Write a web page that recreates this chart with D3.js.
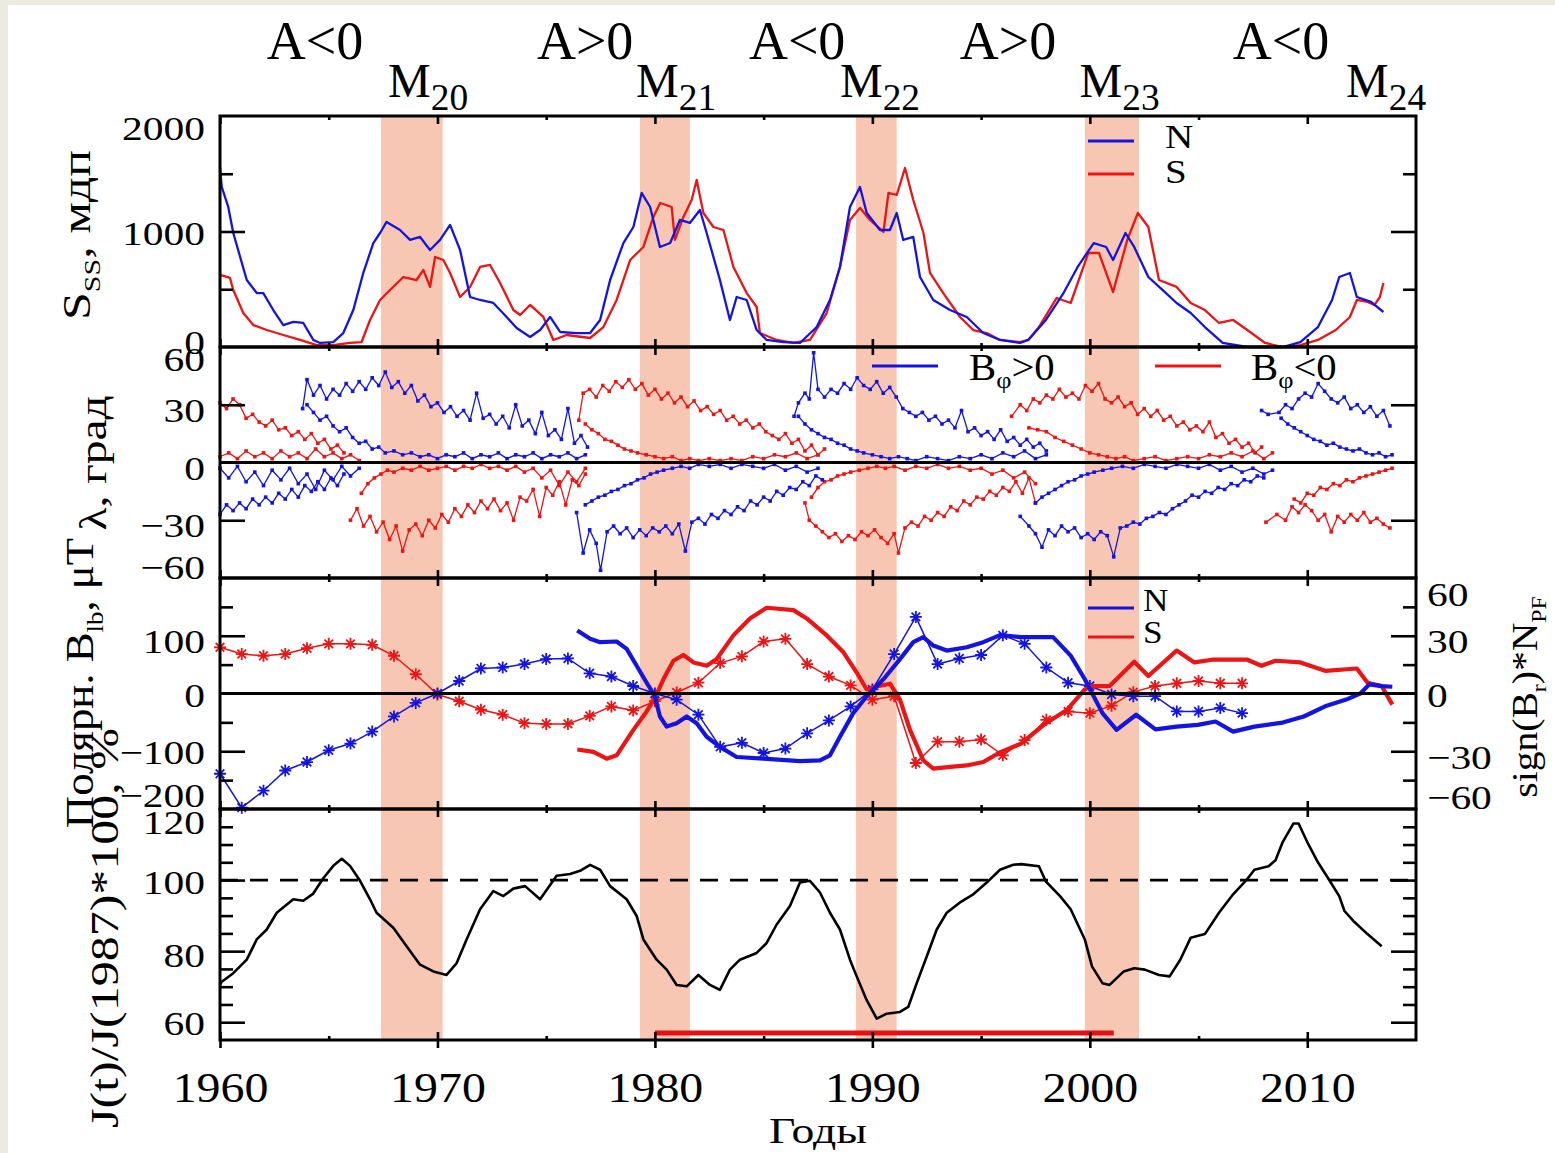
<!DOCTYPE html>
<html><head><meta charset="utf-8">
<script src="https://cdn.jsdelivr.net/npm/d3@7"></script>
<style>
html,body{margin:0;padding:0;background:#ecebe1;}
svg{display:block;}
</style></head><body>
<svg id="c" width="1555" height="1153"></svg>
<script>
// ================= DATA =================
const polarityLabels = ["A<0","A>0","A<0","A>0","A<0"];
const maxSubs = ["20","21","22","23","24"];
const bands = [[1967.4,1970.24],[1979.31,1981.61],[1989.25,1991.12],[1999.77,2002.26]];
const xTickLabels = [1960,1970,1980,1990,2000,2010];

// Panel 1: sunspot area S_ss (msh), N and S
const sN = [[1960.00,1559],[1960.08,1386],[1960.38,1212],[1960.61,987],[1961.23,580],[1961.69,467],[1961.99,467],[1962.45,320],[1962.91,190],[1963.37,217],[1963.83,208],[1964.29,61],[1964.60,35],[1965.21,43],[1965.67,121],[1966.13,320],[1966.59,641],[1967.05,900],[1967.36,987],[1967.66,1083],[1968.28,1013],[1968.74,927],[1969.20,953],[1969.66,840],[1970.12,927],[1970.58,1057],[1971.04,840],[1971.50,433],[1971.96,407],[1972.57,381],[1973.18,260],[1973.64,165],[1974.26,87],[1974.72,147],[1975.18,260],[1975.64,130],[1976.40,121],[1977.02,121],[1977.48,234],[1977.94,580],[1978.55,900],[1979.01,1039],[1979.39,1334],[1979.78,1212],[1980.23,866],[1980.70,900],[1981.15,1100],[1981.61,1074],[1982.07,1186],[1982.38,987],[1982.99,580],[1983.45,234],[1983.76,433],[1984.22,407],[1984.68,147],[1985.14,61],[1985.91,43],[1986.67,35],[1987.44,173],[1988.05,407],[1988.51,693],[1988.97,1212],[1989.43,1386],[1989.74,1160],[1990.35,1013],[1990.81,1013],[1991.12,1160],[1991.42,927],[1991.88,953],[1992.19,606],[1992.80,407],[1993.57,320],[1994.34,260],[1995.10,121],[1995.87,61],[1996.79,35],[1997.17,61],[1997.98,234],[1998.79,467],[1999.44,693],[2000.18,900],[2000.75,866],[2001.07,753],[2001.64,987],[2002.04,866],[2002.69,606],[2003.34,494],[2003.99,381],[2004.64,294],[2005.29,173],[2006.11,35],[2007.24,0],[2008.87,0],[2009.68,43],[2010.49,173],[2011.14,407],[2011.47,606],[2011.96,641],[2012.28,433],[2012.93,390],[2013.50,303]];
const sS = [[1960.00,624],[1960.46,598],[1960.61,494],[1961.07,294],[1961.53,190],[1962.15,147],[1962.91,104],[1963.68,61],[1964.45,17],[1965.21,17],[1965.98,35],[1966.51,43],[1966.90,234],[1967.36,407],[1967.82,494],[1968.43,606],[1969.04,580],[1969.35,667],[1969.66,520],[1969.89,779],[1970.27,753],[1970.58,641],[1971.04,433],[1971.50,520],[1971.96,693],[1972.42,710],[1972.88,554],[1973.49,320],[1973.80,277],[1974.26,364],[1974.87,260],[1975.33,61],[1975.94,104],[1977.02,78],[1977.63,173],[1978.24,407],[1978.86,753],[1979.47,866],[1979.93,1126],[1980.24,1247],[1980.77,1212],[1980.92,927],[1981.31,1126],[1981.69,1273],[1981.92,1446],[1982.23,1160],[1982.69,1039],[1983.15,1013],[1983.61,693],[1984.22,467],[1984.68,346],[1984.83,121],[1985.60,61],[1986.37,35],[1987.13,61],[1987.90,294],[1988.51,693],[1988.97,1100],[1989.43,1204],[1989.89,1100],[1990.51,996],[1990.74,1334],[1991.12,1316],[1991.50,1550],[1991.88,1273],[1992.35,987],[1992.65,641],[1993.26,467],[1994.03,260],[1994.64,147],[1995.26,121],[1995.87,61],[1996.79,43],[1997.17,61],[1997.66,173],[1998.47,424],[1999.12,381],[1999.93,814],[2000.42,814],[2001.07,476],[2001.72,927],[2002.21,1160],[2002.69,1039],[2003.18,580],[2003.99,520],[2004.64,381],[2005.29,320],[2005.94,208],[2006.59,234],[2007.24,147],[2008.06,35],[2008.87,0],[2009.68,17],[2010.49,61],[2011.31,147],[2011.96,260],[2012.28,407],[2012.77,390],[2013.09,364],[2013.34,433],[2013.50,554]];

// Panel 2: latitude (deg) of sunspot zone borders, blue: B_phi>0, red: B_phi<0
const latR19a = [[1960.0,31],[1960.3,28],[1960.6,33],[1960.9,30],[1961.2,23],[1961.5,25],[1961.8,21],[1962.1,19],[1962.4,22],[1962.7,17],[1963.0,18],[1963.3,14],[1963.6,16],[1963.9,12],[1964.2,15],[1964.5,10],[1964.8,12],[1965.1,7],[1965.4,9],[1965.7,5]];
const latR19b = [[1960.0,3],[1960.4,5],[1960.8,2],[1961.2,6],[1961.6,3],[1962.0,5],[1962.4,2],[1962.8,6],[1963.2,3],[1963.6,5],[1964.0,2],[1964.4,7],[1964.8,3],[1965.2,5],[1965.6,2],[1966.0,4],[1966.4,1]];
const latB19a = [[1960.0,-3],[1960.4,-8],[1960.8,-2],[1961.2,-10],[1961.6,-5],[1962.0,-12],[1962.4,-4],[1962.8,-9],[1963.2,-3],[1963.6,-11],[1964.0,-6],[1964.4,-14],[1964.8,-4],[1965.2,-9],[1965.6,-2],[1966.0,-7],[1966.4,-3]];
const latB19b = [[1960.0,-27],[1960.3,-22],[1960.6,-25],[1960.9,-21],[1961.2,-24],[1961.5,-19],[1961.8,-22],[1962.1,-18],[1962.4,-21],[1962.7,-16],[1963.0,-19],[1963.3,-14],[1963.6,-18],[1963.9,-12],[1964.2,-15],[1964.5,-10],[1964.8,-14],[1965.1,-8],[1965.4,-12],[1965.7,-6]];
const latB20a = [[1963.8,28],[1964.0,43],[1964.3,35],[1964.6,40],[1964.9,33],[1965.2,38],[1965.5,35],[1965.8,41],[1966.1,37],[1966.4,42],[1966.7,38],[1967.0,44],[1967.3,40],[1967.6,47],[1967.9,39],[1968.2,42],[1968.5,36],[1968.8,40],[1969.1,32],[1969.4,35],[1969.7,29],[1970.0,31],[1970.3,26],[1970.6,29],[1970.9,24],[1971.2,27],[1971.5,22],[1971.8,36],[1972.1,23],[1972.4,25],[1972.7,20],[1973.0,24],[1973.3,18],[1973.6,30],[1973.9,19],[1974.2,22],[1974.5,15],[1974.8,26],[1975.1,14],[1975.4,17],[1975.7,12],[1976.0,28],[1976.3,10],[1976.6,14],[1976.9,8]];
const latB20b = [[1964.0,30],[1964.3,26],[1964.6,22],[1964.9,24],[1965.2,19],[1965.5,16],[1965.8,18],[1966.1,13],[1966.4,10],[1966.7,11],[1967.0,7],[1967.3,8],[1967.6,5],[1968.0,6],[1968.4,4],[1968.8,5],[1969.2,3],[1969.6,4],[1970.0,2],[1970.4,4],[1970.8,3],[1971.2,5],[1971.6,2],[1972.0,4],[1972.4,3],[1972.8,5],[1973.2,2],[1973.6,4],[1974.0,3],[1974.4,5],[1974.8,2],[1975.2,4],[1975.6,3],[1976.0,5],[1976.4,2],[1976.8,4]];
const latR20a = [[1966.0,-30],[1966.3,-24],[1966.6,-33],[1966.9,-28],[1967.2,-36],[1967.5,-31],[1967.8,-40],[1968.1,-33],[1968.4,-46],[1968.7,-35],[1969.0,-32],[1969.3,-38],[1969.6,-30],[1969.9,-34],[1970.2,-27],[1970.5,-31],[1970.8,-24],[1971.1,-28],[1971.4,-22],[1971.7,-26],[1972.0,-20],[1972.3,-24],[1972.6,-19],[1972.9,-25],[1973.2,-21],[1973.5,-30],[1973.8,-18],[1974.1,-20],[1974.4,-14],[1974.7,-28],[1975.0,-13],[1975.3,-17],[1975.6,-10],[1975.9,-22],[1976.2,-9],[1976.5,-12],[1976.8,-6]];
const latR20b = [[1966.5,-16],[1966.8,-11],[1967.1,-8],[1967.4,-6],[1967.7,-4],[1968.0,-5],[1968.4,-3],[1968.8,-4],[1969.2,-2],[1969.6,-4],[1970.0,-3],[1970.4,-2],[1970.8,-4],[1971.2,-2],[1971.6,-3],[1972.0,-1],[1972.4,-3],[1972.8,-2],[1973.2,-4],[1973.6,-2],[1974.0,-5],[1974.4,-3],[1974.8,-8],[1975.2,-4],[1975.6,-12],[1976.0,-5],[1976.4,-10],[1976.8,-3]];
const latR21a = [[1976.5,22],[1976.7,36],[1977.0,38],[1977.3,34],[1977.6,40],[1977.9,37],[1978.2,42],[1978.5,39],[1978.8,43],[1979.1,38],[1979.4,41],[1979.7,35],[1980.0,38],[1980.3,33],[1980.6,36],[1980.9,31],[1981.2,34],[1981.5,29],[1981.8,32],[1982.1,27],[1982.4,29],[1982.7,25],[1983.0,27],[1983.3,22],[1983.6,24],[1983.9,20],[1984.2,22],[1984.5,18],[1984.8,20],[1985.1,16],[1985.4,14],[1985.7,12],[1986.0,15],[1986.3,10],[1986.6,12],[1986.9,6],[1987.2,9],[1987.5,4],[1987.8,7]];
const latR21b = [[1976.8,20],[1977.1,17],[1977.4,15],[1977.7,12],[1978.0,11],[1978.3,9],[1978.6,7],[1978.9,6],[1979.2,5],[1979.6,4],[1980.0,3],[1980.4,2],[1980.8,3],[1981.2,1],[1981.6,2],[1982.0,1],[1982.5,2],[1983.0,1],[1983.5,2],[1984.0,1],[1984.5,3],[1985.0,2],[1985.5,4],[1986.0,3],[1986.5,5],[1987.0,2],[1987.5,4]];
const latB21a = [[1976.4,-26],[1976.7,-47],[1977.0,-35],[1977.3,-42],[1977.5,-56],[1977.8,-36],[1978.1,-33],[1978.4,-37],[1978.7,-34],[1979.0,-39],[1979.3,-35],[1979.6,-38],[1979.9,-34],[1980.2,-36],[1980.5,-33],[1980.8,-37],[1981.1,-32],[1981.4,-46],[1981.7,-31],[1982.0,-29],[1982.3,-32],[1982.6,-27],[1982.9,-29],[1983.2,-25],[1983.5,-27],[1983.8,-23],[1984.1,-25],[1984.4,-20],[1984.7,-22],[1985.0,-18],[1985.3,-20],[1985.6,-15],[1985.9,-17],[1986.2,-13],[1986.5,-14],[1986.8,-10],[1987.1,-12],[1987.4,-7],[1987.7,-9]];
const latB21b = [[1976.8,-22],[1977.1,-20],[1977.4,-18],[1977.7,-17],[1978.0,-15],[1978.3,-14],[1978.6,-12],[1978.9,-11],[1979.2,-9],[1979.5,-8],[1979.8,-6],[1980.1,-5],[1980.4,-4],[1980.8,-3],[1981.2,-2],[1981.6,-3],[1982.0,-1],[1982.5,-2],[1983.0,-1],[1983.5,-3],[1984.0,-1],[1984.5,-2],[1985.0,-3],[1985.5,-1],[1986.0,-4],[1986.5,-2],[1987.0,-5],[1987.5,-3]];
const latB22a = [[1986.4,24],[1986.6,31],[1986.9,36],[1987.1,33],[1987.3,57],[1987.5,38],[1987.8,34],[1988.1,38],[1988.4,36],[1988.7,41],[1989.0,38],[1989.3,44],[1989.6,40],[1989.9,38],[1990.2,42],[1990.5,36],[1990.8,39],[1991.1,34],[1991.4,28],[1991.7,26],[1992.0,24],[1992.3,26],[1992.6,22],[1992.9,24],[1993.2,20],[1993.5,22],[1993.8,18],[1994.1,27],[1994.4,16],[1994.7,18],[1995.0,14],[1995.3,16],[1995.6,12],[1995.9,17],[1996.2,11],[1996.5,13],[1996.8,9],[1997.1,12],[1997.4,8],[1997.7,10],[1998.0,6]];
const latB22b = [[1986.6,24],[1986.9,20],[1987.2,17],[1987.5,15],[1987.8,13],[1988.1,12],[1988.4,10],[1988.7,9],[1989.0,7],[1989.3,6],[1989.6,5],[1990.0,4],[1990.4,3],[1990.8,2],[1991.2,3],[1991.6,2],[1992.0,1],[1992.5,3],[1993.0,2],[1993.5,1],[1994.0,3],[1994.5,2],[1995.0,4],[1995.5,2],[1996.0,5],[1996.5,3],[1997.0,6],[1997.5,2],[1998.0,4]];
const latR22a = [[1986.9,-21],[1987.1,-30],[1987.4,-33],[1987.7,-36],[1988.0,-39],[1988.3,-37],[1988.6,-41],[1988.9,-38],[1989.2,-40],[1989.5,-36],[1989.8,-38],[1990.1,-35],[1990.4,-39],[1990.7,-42],[1991.0,-37],[1991.2,-47],[1991.5,-34],[1991.8,-31],[1992.1,-33],[1992.4,-28],[1992.7,-30],[1993.0,-26],[1993.3,-28],[1993.6,-23],[1993.9,-25],[1994.2,-20],[1994.5,-22],[1994.8,-18],[1995.1,-19],[1995.4,-15],[1995.7,-17],[1996.0,-13],[1996.3,-15],[1996.6,-10],[1996.9,-16],[1997.2,-8],[1997.5,-21]];
const latR22b = [[1987.2,-18],[1987.5,-13],[1987.8,-10],[1988.1,-9],[1988.4,-7],[1988.7,-6],[1989.0,-5],[1989.4,-4],[1989.8,-3],[1990.2,-2],[1990.6,-3],[1991.0,-2],[1991.5,-4],[1992.0,-2],[1992.5,-3],[1993.0,-1],[1993.5,-3],[1994.0,-2],[1994.5,-4],[1995.0,-3],[1995.5,-6],[1996.0,-4],[1996.5,-8],[1997.0,-5],[1997.5,-11]];
const latR23a = [[1996.4,24],[1996.8,30],[1997.1,27],[1997.4,33],[1997.7,31],[1998.0,35],[1998.3,33],[1998.6,38],[1998.9,34],[1999.2,36],[1999.5,33],[1999.8,40],[2000.1,37],[2000.4,41],[2000.7,33],[2001.0,31],[2001.3,34],[2001.6,29],[2001.9,31],[2002.2,25],[2002.5,28],[2002.8,24],[2003.1,27],[2003.4,22],[2003.7,24],[2004.0,19],[2004.3,21],[2004.6,17],[2004.9,19],[2005.2,16],[2005.5,21],[2005.8,13],[2006.1,15],[2006.4,10],[2006.7,12],[2007.0,8],[2007.3,10],[2007.6,5],[2007.9,8]];
const latR23b = [[1997.2,18],[1997.6,17],[1998.0,16],[1998.4,13],[1998.8,11],[1999.2,9],[1999.6,7],[2000.0,5],[2000.4,4],[2000.8,3],[2001.2,2],[2001.6,3],[2002.0,1],[2002.5,2],[2003.0,3],[2003.5,1],[2004.0,2],[2004.5,3],[2005.0,2],[2005.5,4],[2006.0,3],[2006.5,5],[2007.0,3],[2007.5,6],[2008.0,2],[2008.4,5]];
const latB23a = [[1996.8,-28],[1997.2,-33],[1997.5,-37],[1997.8,-44],[1998.1,-35],[1998.4,-38],[1998.7,-33],[1999.0,-36],[1999.3,-34],[1999.6,-39],[1999.9,-37],[2000.2,-40],[2000.5,-36],[2000.8,-38],[2001.1,-49],[2001.4,-34],[2001.7,-33],[2002.0,-31],[2002.3,-32],[2002.6,-29],[2002.9,-28],[2003.2,-26],[2003.5,-27],[2003.8,-24],[2004.1,-22],[2004.4,-20],[2004.7,-17],[2005.0,-18],[2005.3,-15],[2005.6,-16],[2005.9,-13],[2006.2,-14],[2006.5,-11],[2006.8,-12],[2007.1,-9],[2007.4,-10],[2007.7,-7],[2008.0,-8]];
const latB23b = [[1997.5,-21],[1997.8,-18],[1998.1,-16],[1998.4,-14],[1998.7,-12],[1999.0,-10],[1999.3,-9],[1999.6,-7],[1999.9,-6],[2000.2,-5],[2000.6,-4],[2001.0,-3],[2001.5,-2],[2002.0,-3],[2002.5,-1],[2003.0,-2],[2003.5,-3],[2004.0,-1],[2004.5,-2],[2005.0,-3],[2005.5,-1],[2006.0,-4],[2006.5,-2],[2007.0,-5],[2007.5,-3],[2008.0,-6],[2008.4,-4]];
const latB24a = [[2007.9,27],[2008.2,25],[2008.7,26],[2009.0,30],[2009.3,28],[2009.6,33],[2009.9,36],[2010.2,34],[2010.5,41],[2010.8,37],[2011.1,33],[2011.4,31],[2011.7,34],[2012.0,28],[2012.3,30],[2012.6,26],[2012.9,29],[2013.2,24],[2013.5,27],[2013.8,19]];
const latB24b = [[2008.8,23],[2009.1,20],[2009.4,18],[2009.7,16],[2010.0,14],[2010.3,12],[2010.6,11],[2010.9,9],[2011.2,10],[2011.5,8],[2011.8,7],[2012.1,6],[2012.4,7],[2012.7,5],[2013.0,4],[2013.3,5],[2013.6,3],[2013.9,4]];
const latR24a = [[2008.1,-31],[2008.6,-27],[2009.0,-30],[2009.3,-23],[2009.6,-26],[2009.9,-22],[2010.2,-25],[2010.5,-30],[2010.8,-27],[2011.1,-36],[2011.4,-28],[2011.7,-31],[2012.0,-27],[2012.3,-30],[2012.6,-26],[2012.9,-31],[2013.2,-29],[2013.5,-32],[2013.8,-34]];
const latR24b = [[2009.4,-19],[2009.7,-21],[2010.0,-16],[2010.3,-17],[2010.6,-13],[2010.9,-14],[2011.2,-11],[2011.5,-12],[2011.8,-9],[2012.1,-10],[2012.4,-8],[2012.7,-7],[2013.0,-6],[2013.3,-5],[2013.6,-4],[2013.9,-3]];
const latBlue = [latB19a,latB19b,latB20a,latB20b,latB21a,latB21b,latB22a,latB22b,latB23a,latB23b,latB24a,latB24b];
const latRed  = [latR19a,latR19b,latR20a,latR20b,latR21a,latR21b,latR22a,latR22b,latR23a,latR23b,latR24a,latR24b];

// Panel 3: annual sign(Br)*N_PF (polar faculae), right axis
const pfYears = [1960,1961,1962,1963,1964,1965,1966,1967,1968,1969,1970,1971,1972,1973,1974,1975,1976,1977,1978,1979,1980,1981,1982,1983,1984,1985,1986,1987,1988,1989,1990,1991,1992,1993,1994,1995,1996,1997,1998,1999,2000,2001,2002,2003,2004,2005,2006,2007];
const pfN = [-41.7,-59.3,-50.5,-40,-35.6,-29.5,-26,-19.8,-11.9,-4.9,0,6.5,13,13.5,15.3,17.9,18.2,10.5,8.8,3.9,0,-3.2,-11,-27.7,-25.6,-30.9,-28.6,-20.7,-14,-6.7,2.1,20.5,39.8,15.3,18.2,20,30.2,25.8,13.5,5.6,3.9,-0.5,-1.4,-1.4,-9.3,-9.3,-7.5,-10.2];
const pfS = [24,20.5,19.6,20.5,23.5,25.8,25.8,25.3,19.6,10,-0.5,-4,-8.4,-11,-15.4,-15.8,-15.8,-11.6,-6.7,-8.8,-4,0.5,5.6,15.8,19.3,27,28.4,15.3,8.8,4.2,-3.2,-1.4,-36.1,-25,-25,-23.9,-32.1,-24.2,-13.7,-9.3,-10.2,-6.3,0.7,3.9,5.3,6.5,5.3,5.3];
// Panel 3: polar magnetic field B_lb (muT), left axis
const bN = [[1976.43,109],[1977.02,94.7],[1977.48,88.9],[1978.24,90],[1978.70,77.2],[1979.16,48],[1979.62,18.7],[1980.0,-4.7],[1980.23,-39.8],[1980.54,-57.3],[1981.0,-51.5],[1981.46,-39.8],[1981.92,-51.5],[1982.38,-74.9],[1982.99,-92.4],[1983.76,-110],[1984.99,-112.9],[1986.67,-117],[1987.59,-115.8],[1988.05,-107],[1988.51,-74.9],[1989.12,-34],[1989.74,-4.7],[1990.51,24.6],[1991.27,59.6],[1991.88,88.9],[1992.34,97.7],[1992.80,83],[1993.42,74.3],[1994.34,80],[1995.10,88.9],[1995.87,101],[1996.79,97.7],[1998.31,97.7],[1999.12,65.5],[1999.77,24.6],[2000.58,-34],[2001.23,-63],[2002.13,-36.8],[2003.02,-62],[2003.99,-57.3],[2004.97,-54.4],[2005.78,-48.5],[2006.59,-66],[2007.57,-57.3],[2008.87,-50.3],[2009.84,-39.8],[2010.82,-22.2],[2011.79,-10.5],[2012.44,0],[2012.85,15.8],[2013.42,12.9],[2013.91,11.7]];
const bS = [[1976.43,-97],[1977.17,-101],[1977.78,-112.9],[1978.24,-107],[1979.01,-63],[1979.62,-31],[1980.0,-7.6],[1980.39,24.6],[1980.85,56.7],[1981.31,66.7],[1981.77,53.8],[1982.38,48],[1982.84,59.6],[1983.61,100.6],[1984.37,130],[1985.14,148.5],[1986.37,144.4],[1986.98,130],[1987.90,100.6],[1988.67,71.3],[1989.28,36.3],[1989.74,7],[1990.20,12],[1990.81,17],[1991.27,-10.5],[1991.73,-63],[1992.34,-115.8],[1992.80,-130],[1993.57,-127],[1994.34,-124.6],[1995.10,-118.7],[1995.87,-102],[1996.85,-86.5],[1997.98,-51.5],[1998.96,-28],[1999.77,7],[2000.10,12.9],[2000.91,12.9],[2002.04,55],[2002.69,30.4],[2003.99,74.3],[2004.81,53.8],[2005.62,58.5],[2007.24,58.5],[2007.89,48],[2008.54,56.7],[2009.68,53.8],[2010.82,39.2],[2012.28,43.3],[2012.77,18.7],[2013.42,12.9],[2013.91,-19.3]];

// Panel 4: cosmic ray intensity J(t)/J(1987)*100 %
const cr = [[1960.0,70.5],[1960.08,71.4],[1960.61,73.8],[1961.23,77.6],[1961.69,83.3],[1962.15,86.1],[1962.61,90.8],[1963.37,94.6],[1963.83,94.2],[1964.29,96.2],[1964.75,100.5],[1965.21,104],[1965.6,106],[1965.98,104],[1966.44,99.8],[1966.9,94.6],[1967.2,90.8],[1967.97,86.6],[1968.58,81.4],[1969.2,76.2],[1969.81,74.3],[1970.42,73.3],[1970.88,76.6],[1971.34,83.3],[1971.96,91.8],[1972.57,96.9],[1973.03,95.5],[1973.49,97.6],[1974.03,98.3],[1974.72,94.6],[1975.48,101.2],[1976.1,101.7],[1976.56,102.6],[1977.02,104.3],[1977.48,102.9],[1977.94,98.3],[1978.7,94.6],[1979.16,89.9],[1979.47,83.3],[1980.08,77.6],[1980.54,74.8],[1981.0,70.5],[1981.46,70.1],[1982.0,73.3],[1982.53,70.5],[1982.99,69.1],[1983.45,74.8],[1983.91,77.6],[1984.68,79.5],[1985.14,82.3],[1985.6,87.5],[1986.21,92.7],[1986.67,99.3],[1987.13,99.8],[1987.59,96.5],[1988.05,90.8],[1988.51,86.1],[1988.97,77.6],[1989.28,72.9],[1989.74,66.2],[1990.2,61],[1990.66,62.4],[1991.27,62.9],[1991.65,64.3],[1992.04,71],[1992.5,78.5],[1992.96,86.1],[1993.42,90.8],[1994.03,93.7],[1994.64,96],[1995.26,99.3],[1995.87,102.9],[1996.48,104.3],[1996.85,104.5],[1997.66,103.9],[1997.98,99.6],[1998.63,95.5],[1999.12,91.8],[1999.77,83.3],[2000.1,75.7],[2000.58,71],[2000.91,70.5],[2001.56,74.3],[2002.04,75.2],[2002.53,74.8],[2003.18,73.3],[2003.67,72.9],[2004.16,77.6],[2004.64,83.8],[2005.29,84.8],[2005.94,90.8],[2006.59,96],[2007.24,100.3],[2007.57,102.9],[2008.22,103.9],[2008.54,105.6],[2008.87,110.7],[2009.36,115.9],[2009.6,115.9],[2010.0,110.7],[2010.49,105],[2010.98,100.3],[2011.47,95.5],[2011.71,91.3],[2012.12,88.5],[2012.77,84.8],[2013.42,81.4]];
const crRef = 100;
const redBarYears = [1980.0,2001.1];
const redBarLevel = 57;

// ================= LAYOUT =================
const FONT = "'Liberation Serif','Times New Roman',serif";
const BLUE = "#1414e2", RED = "#ec1414", BAND = "#f8c7b3";
const X0 = 220, X1 = 1416;
const svg = d3.select("#c");
svg.append("rect").attr("x",8).attr("y",5).attr("width",1547).attr("height",1148).attr("fill","#ffffff");

const x = d3.scaleLinear().domain([1960,2015]).range([X0,X1]);
const panels = [{top:116,bottom:347},{top:347,bottom:578},{top:578,bottom:809},{top:809,bottom:1040}];
const y1 = d3.scaleLinear().domain([0,2000]).range([347,116]);
const y2 = d3.scaleLinear().domain([-60,60]).range([578,347]);
const y3 = d3.scaleLinear().domain([-200,200]).range([809,578]);
const y3r = d3.scaleLinear().domain([-60,60]).range([809,578]);
const y4 = d3.scaleLinear().domain([55,120]).range([1040,809]);

// bands
svg.append("g").selectAll("rect").data(bands).join("rect")
  .attr("x",d=>x(d[0])).attr("width",d=>x(d[1])-x(d[0]))
  .attr("y",116).attr("height",1040-116).attr("fill",BAND);

// ---------- panel 1 ----------
const line1 = d3.line().x(d=>x(d[0])).y(d=>y1(d[1]));
svg.append("path").datum(sS).attr("d",line1).attr("fill","none").attr("stroke",RED).attr("stroke-width",2.3).attr("stroke-linejoin","round");
svg.append("path").datum(sN).attr("d",line1).attr("fill","none").attr("stroke",BLUE).attr("stroke-width",2.3).attr("stroke-linejoin","round");

// ---------- panel 2 ----------
const line2 = d3.line().x(d=>x(d[0])).y(d=>y2(d[1]));
function drawLat(arrs,color){
  const g = svg.append("g");
  arrs.forEach(a=>{
    g.append("path").datum(a).attr("d",line2).attr("fill","none").attr("stroke",color).attr("stroke-width",1.3);
    g.selectAll(null).data(a).join("rect")
      .attr("x",d=>x(d[0])-1.8).attr("y",d=>y2(d[1])-1.8).attr("width",3.6).attr("height",3.6).attr("fill",color);
  });
}
drawLat(latRed,RED);
drawLat(latBlue,BLUE);

// ---------- panel 3 ----------
const line3 = d3.line().x(d=>x(d[0])).y(d=>y3(d[1]));
const line3r = d3.line().x((d,i)=>x(pfYears[i])).y(d=>y3r(d));
const ast = "M-6,0H6M0,-6V6M-4.3,-4.3L4.3,4.3M-4.3,4.3L4.3,-4.3";
function drawPF(vals,color){
  svg.append("path").datum(vals).attr("d",line3r).attr("fill","none").attr("stroke",color).attr("stroke-width",1.5);
  svg.append("g").selectAll("path").data(vals).join("path")
    .attr("d",ast).attr("transform",(d,i)=>`translate(${x(pfYears[i])},${y3r(d)})`)
    .attr("stroke",color).attr("stroke-width",1.8).attr("fill","none");
}
drawPF(pfS,RED);
drawPF(pfN,BLUE);
svg.append("path").datum(bS).attr("d",line3).attr("fill","none").attr("stroke",RED).attr("stroke-width",4.2).attr("stroke-linejoin","round");
svg.append("path").datum(bN).attr("d",line3).attr("fill","none").attr("stroke",BLUE).attr("stroke-width",4.2).attr("stroke-linejoin","round");

// ---------- panel 4 ----------
const line4 = d3.line().x(d=>x(d[0])).y(d=>y4(d[1]));
svg.append("line").attr("x1",X0).attr("x2",X1).attr("y1",y4(crRef)).attr("y2",y4(crRef))
  .attr("stroke","#000").attr("stroke-width",2.6).attr("stroke-dasharray","18,12");
svg.append("path").datum(cr).attr("d",line4).attr("fill","none").attr("stroke","#000").attr("stroke-width",2.6).attr("stroke-linejoin","round");
svg.append("line").attr("x1",x(redBarYears[0])).attr("x2",x(redBarYears[1])).attr("y1",y4(redBarLevel)).attr("y2",y4(redBarLevel))
  .attr("stroke","#e41010").attr("stroke-width",5);

// zero lines
[y2(0),y3(0)].forEach(yy=>{
  svg.append("line").attr("x1",X0).attr("x2",X1).attr("y1",yy).attr("y2",yy).attr("stroke","#000").attr("stroke-width",3);
});

// ---------- axes ----------
const decades = [1960,1970,1980,1990,2000,2010];
const halves = [1965,1975,1985,1995,2005];
function styleTicks(g){ g.select(".domain").remove(); g.selectAll("line").attr("stroke","#000").attr("stroke-width",2.6); }
panels.forEach((p,i)=>{
  svg.append("g").attr("transform",`translate(0,${p.top})`).call(d3.axisTop(x).tickValues(decades).tickSize(-8).tickFormat("")).call(styleTicks);
  svg.append("g").attr("transform",`translate(0,${p.top})`).call(d3.axisTop(x).tickValues(halves).tickSize(-4).tickFormat("")).call(styleTicks);
  svg.append("g").attr("transform",`translate(0,${p.bottom})`).call(d3.axisBottom(x).tickValues(decades).tickSize(-8).tickFormat("")).call(styleTicks);
  svg.append("g").attr("transform",`translate(0,${p.bottom})`).call(d3.axisBottom(x).tickValues(halves).tickSize(-4).tickFormat("")).call(styleTicks);
});
// outward ticks at bottom
svg.append("g").attr("transform","translate(0,1040)").call(d3.axisBottom(x).tickValues(decades).tickSize(8).tickFormat("")).call(styleTicks);
// bottom labels
const xl = svg.append("g").attr("transform","translate(0,1040)")
  .call(d3.axisBottom(x).tickValues(xTickLabels).tickSize(0).tickFormat(d3.format("d")));
xl.select(".domain").remove();
xl.selectAll("text").attr("font-family",FONT).attr("font-size",42).attr("fill","#000")
  .attr("y",0).attr("dy",null).attr("transform","translate(0,62) scale(1.14,1)");

const YFS = 34, YSX = 1.22;
function yAxis(scale, side, majors, minors, labelVals, offsets){
  const X = side==="left" ? X0 : X1;
  const mk = side==="left" ? d3.axisLeft : d3.axisRight;
  svg.append("g").attr("transform",`translate(${X},0)`).call(mk(scale).tickValues(majors).tickSize(-25).tickFormat("")).call(styleTicks);
  if (minors.length) svg.append("g").attr("transform",`translate(${X},0)`).call(mk(scale).tickValues(minors).tickSize(-13).tickFormat("")).call(styleTicks);
  if (labelVals){
    const g = svg.append("g").attr("transform",`translate(${X},0)`).call(mk(scale).tickValues(labelVals).tickSize(0).tickFormat(d3.format("d")));
    g.select(".domain").remove();
    g.selectAll("text").attr("font-family",FONT).attr("font-size",YFS).attr("fill","#000")
      .attr("text-anchor", side==="left" ? "end" : "start")
      .attr("x",0).attr("dy",null)
      .attr("y",(d,i)=>offsets[i] + 0.34*YFS)
      .attr("transform", side==="left" ? `translate(-15,0) scale(${YSX},1)` : `translate(11,0) scale(${YSX},1)`);
  }
}
// panel 1
yAxis(y1,"left",[1000],[500,1500],[2000,1000,0],[12,1.5,-5]);
yAxis(y1,"right",[1000],[500,1500],null);
// panel 2
yAxis(y2,"left",[30,-30],[],[60,30,0,-30,-60],[12,5,5.5,5,-11]);
yAxis(y2,"right",[30,-30],[],null);
// panel 3
yAxis(y3,"left",[100,-100],[150,50,-50,-150],[100,0,-100,-200],[5.5,1,0.5,-14]);
yAxis(y3r,"right",[30,-30],[45,15,-15,-45],[60,30,0,-30,-60],[16,5.5,1,5.5,-12]);
// panel 4
const p4maj=[60,80,100], p4min=[65,70,75,85,90,95,105,110,115];
yAxis(y4,"left",p4maj,p4min,[120,100,80,60],[13,2,4,1]);
yAxis(y4,"right",p4maj,p4min,null);

// frames
panels.forEach(p=>{
  svg.append("rect").attr("x",X0).attr("y",p.top).attr("width",X1-X0).attr("height",p.bottom-p.top)
    .attr("fill","none").attr("stroke","#000").attr("stroke-width",3);
});

// ---------- texts ----------
function rich(tx,ty,rot,sx,size,parts,anchor){
  const t = svg.append("text").attr("transform",`translate(${tx},${ty}) rotate(${rot}) scale(${sx},1)`)
    .attr("font-family",FONT).attr("font-size",size).attr("fill","#000").attr("text-anchor",anchor||"middle");
  let shift = 0;
  parts.forEach(p=>{
    const ts = t.append("tspan").text(p.t);
    if (p.sub){ ts.attr("font-size",size*(p.scale||0.65)); const d=size*(p.dy||0.28); ts.attr("dy",d-shift); shift=d; }
    else if (shift){ ts.attr("dy",-shift); shift=0; }
  });
  return t;
}
// polarity labels (positions in years)
const polarityYears = [1964.37,1976.79,1986.54,1996.24,2008.79];
polarityLabels.forEach((s,i)=>rich(x(polarityYears[i]),59,0,1,54,[{t:s}],"middle"));
// cycle maxima labels
const maxYears = [1967.73,1979.13,1988.51,1999.53,2011.78];
maxSubs.forEach((s,i)=>rich(x(maxYears[i]),97,0,1,48,[{t:"M"},{t:s,sub:1,scale:0.78,dy:0.27}],"start"));

// legends
function legLine(x1,x2,yy,color){ svg.append("line").attr("x1",x1).attr("x2",x2).attr("y1",yy).attr("y2",yy).attr("stroke",color).attr("stroke-width",3); }
legLine(1088,1134,141,BLUE); legLine(1088,1134,174,RED);
rich(1165,148,0,1.15,34,[{t:"N"}],"start");
rich(1165,183,0,1.15,34,[{t:"S"}],"start");
legLine(872,938,366,BLUE); legLine(1155,1221,366,RED);
rich(969,380,0,1.1,37,[{t:"B"},{t:"φ",sub:1,dy:0.22},{t:">0"}],"start");
rich(1251,380,0,1.1,37,[{t:"B"},{t:"φ",sub:1,dy:0.22},{t:"<0"}],"start");
legLine(1088,1134,608,BLUE); legLine(1088,1134,637,RED);
rich(1143,611,0,1.1,32,[{t:"N"}],"start");
rich(1143,643,0,1.1,32,[{t:"S"}],"start");

// axis titles
rich(90,235,-90,1.25,40,[{t:"S"},{t:"SS",sub:1,scale:0.6,dy:0.25},{t:", мдп"}]);
rich(106,463,-90,1.25,38,[{t:"λ, град"}]);
rich(93,683,-90,1.12,40,[{t:"Полярн. B"},{t:"lb",sub:1,scale:0.6,dy:0.25},{t:", μT"}]);
rich(118,928,-90,1.25,40,[{t:"J(t)/J(1987)*100, %"}]);
rich(1537,697,-90,1.1,36,[{t:"sign(B"},{t:"r",sub:1,scale:0.6,dy:0.25},{t:")*N"},{t:"PF",sub:1,scale:0.6,dy:0.25}]);
rich(818,1143,0,1.27,36,[{t:"Годы"}]);
</script></body></html>
